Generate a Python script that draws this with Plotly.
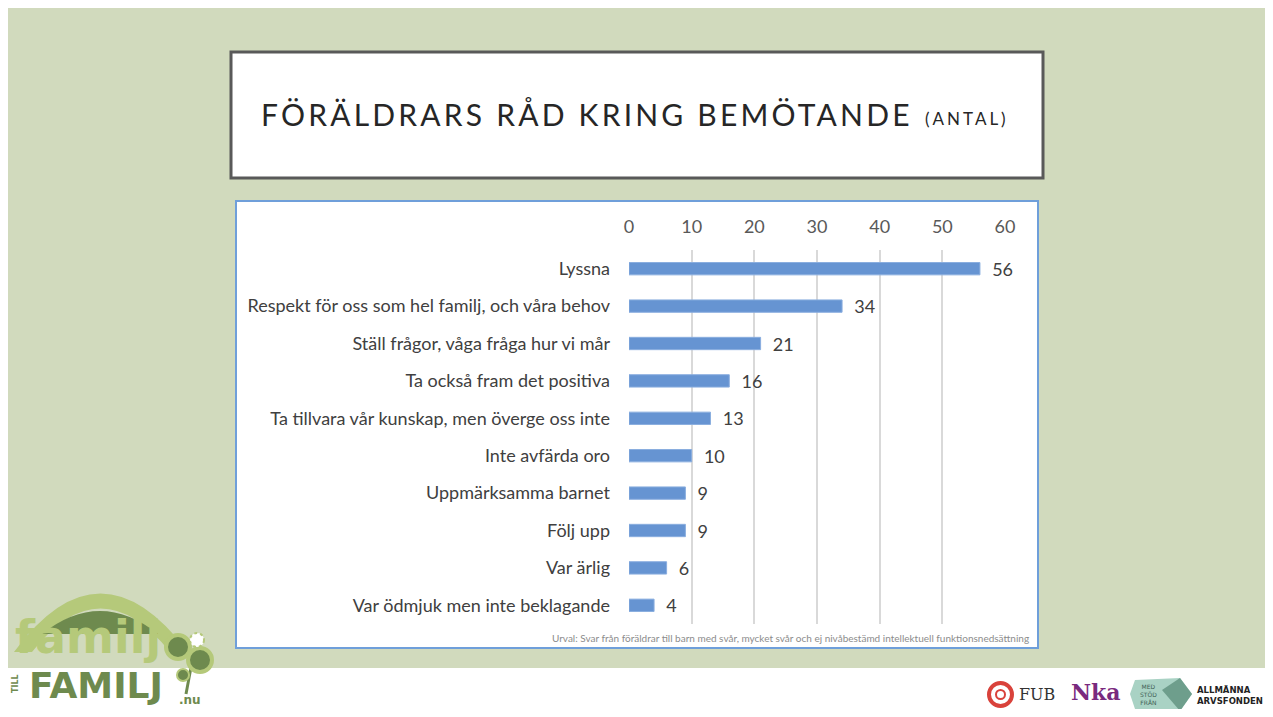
import plotly.graph_objects as go

# data
kategorier = [
    "Lyssna",
    "Respekt för oss som hel familj, och våra behov",
    "Ställ frågor, våga fråga hur vi mår",
    "Ta också fram det positiva",
    "Ta tillvara vår kunskap, men överge oss inte",
    "Inte avfärda oro",
    "Uppmärksamma barnet",
    "Följ upp",
    "Var ärlig",
    "Var ödmjuk men inte beklagande",
]
antal = [56, 34, 21, 16, 13, 10, 9, 9, 6, 4]
tick_varden = [0, 10, 20, 30, 40, 50, 60]

# the page puts the figure 8px in from the top left corner, keep it inside the window
OFF = 8
W, H = 1273 - 2 * OFF, 717 - 2 * OFF


def px(x):
    return (x - OFF) / W


def py(y):
    return 1 - (y - OFF) / H


def txt(text, x, y, size, color, family="DejaVu Sans", xanchor="center", **kw):
    return dict(text=text, x=px(x), y=py(y), xref="paper", yref="paper",
                xanchor=xanchor, yanchor="middle", showarrow=False,
                font=dict(family=family, size=size, color=color), **kw)


fig = go.Figure()

fig.add_trace(go.Bar(
    x=antal,
    y=kategorier,
    orientation="h",
    width=0.33,
    marker=dict(color="#6694D2", line=dict(color="#8AAEDF", width=1)),
    text=antal,
    texttemplate="  %{text}",
    textposition="outside",
    constraintext="none",
    cliponaxis=False,
    textfont=dict(family="Lato", size=18, color="#404040"),
    hoverinfo="skip",
))

shapes = [
    # bottom white strip
    dict(type="rect", xref="paper", yref="paper", x0=0, x1=1, y0=0, y1=py(668),
         fillcolor="white", line=dict(width=0), layer="below"),
    # title box
    dict(type="rect", xref="paper", yref="paper", x0=px(231), x1=px(1043), y0=py(178), y1=py(52),
         fillcolor="white", line=dict(color="#595959", width=3), layer="below"),
    # chart box
    dict(type="rect", xref="paper", yref="paper", x0=px(236), x1=px(1038), y0=py(648), y1=py(201),
         fillcolor="white", line=dict(color="#6F9FDA", width=2), layer="below"),
    # logo arc
    dict(type="path", xref="paper", yref="paper", layer="below",
         path=f"M {px(14)},{py(652)} Q {px(100)},{py(535)} {px(188)},{py(652)} L {px(170)},{py(652)} "
              f"Q {px(100)},{py(565)} {px(32)},{py(652)} Z",
         fillcolor="#B5C97A", line=dict(width=0)),
    dict(type="path", xref="paper", yref="paper", layer="below",
         path=f"M {px(42)},{py(634)} Q {px(100)},{py(588)} {px(158)},{py(634)} Z",
         fillcolor="#6E8A4E", line=dict(width=0)),
    # flower
    dict(type="line", xref="paper", yref="paper", x0=px(192), x1=px(186), y0=py(662), y1=py(694),
         line=dict(color="#6E8A4E", width=3)),
    dict(type="circle", xref="paper", yref="paper", x0=px(166), x1=px(190), y0=py(659), y1=py(635),
         fillcolor="#6E8A4E", line=dict(color="#B5C97A", width=4)),
    dict(type="circle", xref="paper", yref="paper", x0=px(188), x1=px(212), y0=py(672), y1=py(648),
         fillcolor="#6E8A4E", line=dict(color="#B5C97A", width=4)),
    dict(type="circle", xref="paper", yref="paper", x0=px(190), x1=px(204), y0=py(647), y1=py(633),
         fillcolor="white", line=dict(color="#B5C97A", width=2, dash="dot")),
    dict(type="circle", xref="paper", yref="paper", x0=px(177), x1=px(189), y0=py(681), y1=py(669),
         fillcolor="#6E8A4E", line=dict(color="#B5C97A", width=2)),
    # FUB ring
    dict(type="circle", xref="paper", yref="paper", x0=px(989), x1=px(1012), y0=py(706), y1=py(683),
         line=dict(color="#D9423B", width=4)),
    dict(type="circle", xref="paper", yref="paper", x0=px(996), x1=px(1005), y0=py(699), y1=py(690),
         line=dict(color="#D9423B", width=2)),
    # arvsfonden badge
    dict(type="path", xref="paper", yref="paper",
         path=f"M {px(1135)},{py(680)} L {px(1180)},{py(678)} L {px(1192)},{py(694)} L {px(1180)},{py(711)} "
              f"L {px(1135)},{py(709)} L {px(1130)},{py(694)} Z",
         fillcolor="#A9D2C4", line=dict(width=0)),
    dict(type="path", xref="paper", yref="paper",
         path=f"M {px(1162)},{py(690)} L {px(1180)},{py(678)} L {px(1192)},{py(694)} L {px(1180)},{py(711)} Z",
         fillcolor="#6E9E8C", line=dict(width=0)),
]

annotations = [
    txt("<span style='letter-spacing:3.2px'>FÖRÄLDRARS RÅD KRING BEMÖTANDE</span>",
        259, 114, 30, "#262626", family="Lato", xanchor="left"),
    txt("<span style='letter-spacing:3px'>(ANTAL)</span>",
        923, 119, 17, "#262626", family="Lato", xanchor="left"),
    txt("Urval: Svar från föräldrar till barn med svår, mycket svår och ej nivåbestämd intellektuell funktionsnedsättning",
        1031, 638, 10, "#8C8C8C", family="Lato", xanchor="right"),
    # left logo
    txt("<b>familj</b>", 88, 637, 46, "#B5C97A"),
    txt("<b>FAMILJ</b>", 96, 685, 36, "#6E8A4E"),
    txt("<b>TILL</b>", 15, 684, 8, "#6E8A4E", textangle=-90),
    txt("<b>.nu</b>", 190, 700, 12, "#6E8A4E"),
    # right logos
    txt("FUB", 1017, 694, 16, "#333333", family="DejaVu Serif", xanchor="left"),
    txt("<b>Nka</b>", 1069, 692, 22, "#7A2A7E", family="DejaVu Serif", xanchor="left"),
    txt("MED<br>STÖD<br>FRÅN", 1148, 694, 6, "#3F5F55"),
    txt("<b>ALLMÄNNA<br>ARVSFONDEN</b>", 1195, 695, 8.5, "#222222", xanchor="left", align="left"),
]

fig.update_layout(
    width=W,
    height=H,
    margin=dict(l=0, r=0, t=0, b=0, autoexpand=False),
    paper_bgcolor="#D1DABD",
    plot_bgcolor="white",
    showlegend=False,
    shapes=shapes,
    annotations=annotations,
    xaxis=dict(
        domain=[px(629), px(1005)],
        range=[0, 60],
        side="top",
        tickvals=tick_varden,
        showgrid=True,
        gridcolor="#D9D9D9",
        gridwidth=1.5,
        zeroline=False,
        showline=False,
        ticks="",
        automargin=False,
        tickfont=dict(family="Lato", size=18, color="#595959"),
        ticklabelstandoff=12,
        fixedrange=True,
    ),
    yaxis=dict(
        domain=[py(624), py(250)],
        autorange="reversed",
        showgrid=False,
        zeroline=False,
        showline=False,
        ticks="",
        automargin=False,
        tickfont=dict(family="Lato", size=18, color="#404040"),
        ticklabelstandoff=18,
        fixedrange=True,
    ),
)

fig.write_html("out.html")
